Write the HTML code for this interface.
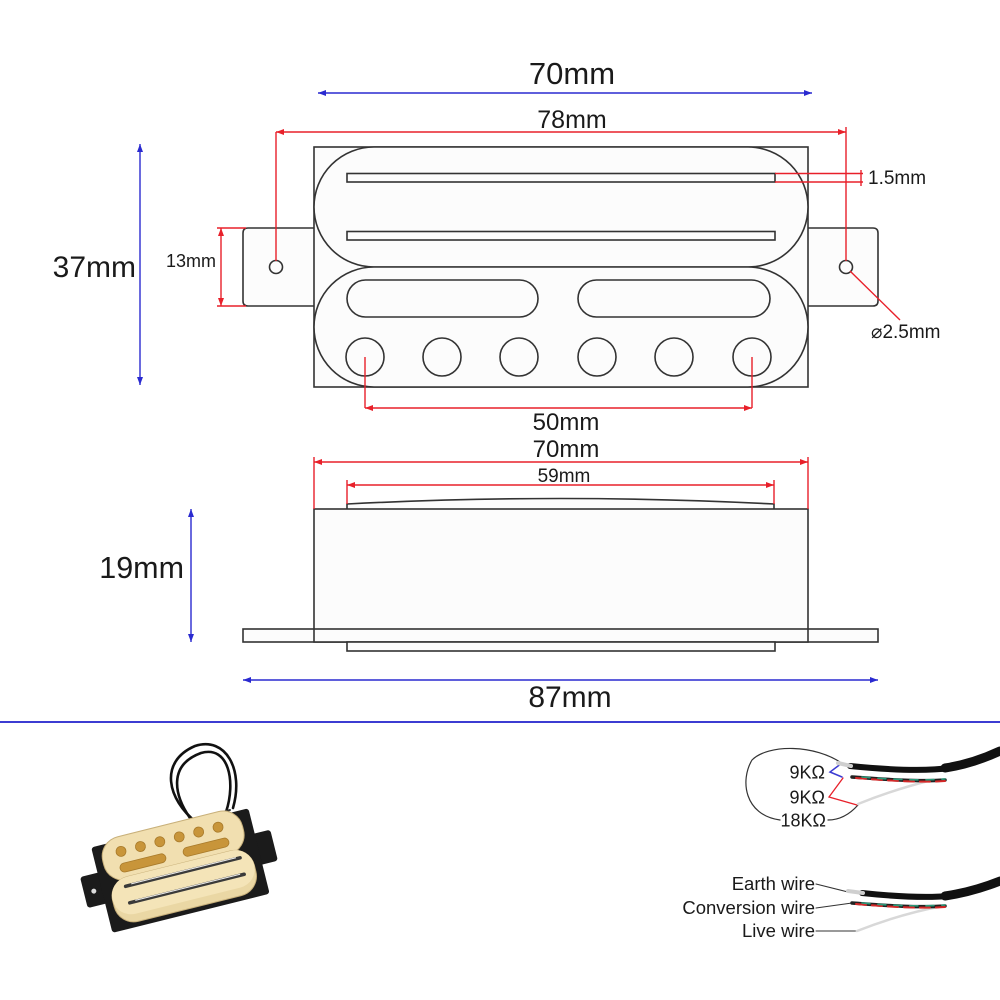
<!DOCTYPE html>
<html>
<head>
<meta charset="utf-8">
<style>
html,body{margin:0;padding:0;background:#fff;}
svg{display:block;}
text{font-family:"Liberation Sans","DejaVu Sans",sans-serif;fill:#1a1a1a;}
</style>
</head>
<body>
<svg width="1000" height="1000" viewBox="0 0 1000 1000" xmlns="http://www.w3.org/2000/svg">
<defs>
  <marker id="ar" viewBox="0 0 8 6" refX="8" refY="3" markerWidth="8" markerHeight="6" orient="auto-start-reverse" markerUnits="userSpaceOnUse">
    <path d="M0 0 L8 3 L0 6 Z" fill="#e8202a"/>
  </marker>
  <marker id="ab" viewBox="0 0 8 6" refX="8" refY="3" markerWidth="8" markerHeight="6" orient="auto-start-reverse" markerUnits="userSpaceOnUse">
    <path d="M0 0 L8 3 L0 6 Z" fill="#2a2ad0"/>
  </marker>
</defs>

<!-- ===== TOP VIEW ===== -->
<g fill="#fcfcfc" stroke="#333" stroke-width="1.6">
  <!-- tabs -->
  <path d="M314 228 L248 228 Q243 228 243 233 L243 301 Q243 306 248 306 L314 306"/>
  <path d="M808 228 L873 228 Q878 228 878 233 L878 301 Q878 306 873 306 L808 306"/>
  <rect x="314" y="147" width="494" height="240"/>
  <path d="M374 147 L748 147 A60 60 0 0 1 748 267 L374 267 A60 60 0 0 1 374 147 Z"/>
  <path d="M374 267 L748 267 A60 60 0 0 1 748 387 L374 387 A60 60 0 0 1 374 267 Z"/>
  <rect x="347" y="173.5" width="428" height="8.5"/>
  <rect x="347" y="231.5" width="428" height="8.5"/>
  <rect x="347" y="280" width="191" height="37" rx="18.5"/>
  <rect x="578" y="280" width="192" height="37" rx="18.5"/>
  <circle cx="365" cy="357" r="19"/>
  <circle cx="442" cy="357" r="19"/>
  <circle cx="519" cy="357" r="19"/>
  <circle cx="597" cy="357" r="19"/>
  <circle cx="674" cy="357" r="19"/>
  <circle cx="752" cy="357" r="19"/>
  <circle cx="276" cy="267" r="6.5"/>
  <circle cx="846" cy="267" r="6.5"/>
</g>

<!-- red dims top view -->
<g stroke="#e8202a" stroke-width="1.4" fill="none">
  <line x1="276" y1="132" x2="846" y2="132" marker-start="url(#ar)" marker-end="url(#ar)"/>
  <line x1="276" y1="132" x2="276" y2="261"/>
  <line x1="846" y1="127" x2="846" y2="261"/>
  <line x1="775" y1="173.5" x2="863" y2="173.5"/>
  <line x1="775" y1="182" x2="863" y2="182"/>
  <line x1="861" y1="170" x2="861" y2="186"/>
  <line x1="850" y1="271" x2="900" y2="320"/>
  <line x1="365" y1="357" x2="365" y2="408"/>
  <line x1="752" y1="357" x2="752" y2="408"/>
  <line x1="365" y1="408" x2="752" y2="408" marker-start="url(#ar)" marker-end="url(#ar)"/>
  <line x1="217" y1="228" x2="246" y2="228"/>
  <line x1="217" y1="306" x2="246" y2="306"/>
  <line x1="221" y1="228" x2="221" y2="306" marker-start="url(#ar)" marker-end="url(#ar)"/>
</g>

<!-- blue dims -->
<g stroke="#2a2ad0" stroke-width="1.4" fill="none">
  <line x1="318" y1="93" x2="812" y2="93" marker-start="url(#ab)" marker-end="url(#ab)"/>
  <line x1="140" y1="144" x2="140" y2="385" marker-start="url(#ab)" marker-end="url(#ab)"/>
  <line x1="191" y1="509" x2="191" y2="642" marker-start="url(#ab)" marker-end="url(#ab)"/>
  <line x1="243" y1="680" x2="878" y2="680" marker-start="url(#ab)" marker-end="url(#ab)"/>
</g>

<!-- labels top -->
<text x="572" y="84" font-size="31" text-anchor="middle">70mm</text>
<text x="572" y="128" font-size="25" text-anchor="middle">78mm</text>
<text x="136" y="277" font-size="30" text-anchor="end">37mm</text>
<text x="216" y="267" font-size="18" text-anchor="end">13mm</text>
<text x="868" y="184" font-size="19">1.5mm</text>
<text x="871" y="338" font-size="19">⌀2.5mm</text>
<text x="566" y="430" font-size="24" text-anchor="middle">50mm</text>

<!-- ===== SIDE VIEW ===== -->
<g fill="#fcfcfc" stroke="#333" stroke-width="1.6">
  <path d="M347 509 L347 504 Q561 493 774 504 L774 509"/>
  <rect x="314" y="509" width="494" height="133"/>
  <rect x="243" y="629" width="635" height="13"/>
  <line x1="314" y1="629" x2="314" y2="642"/>
  <line x1="808" y1="629" x2="808" y2="642"/>
  <rect x="347" y="642" width="428" height="9"/>
</g>
<g stroke="#e8202a" stroke-width="1.4" fill="none">
  <line x1="314" y1="462" x2="808" y2="462" marker-start="url(#ar)" marker-end="url(#ar)"/>
  <line x1="314" y1="457" x2="314" y2="509"/>
  <line x1="808" y1="457" x2="808" y2="509"/>
  <line x1="347" y1="485" x2="774" y2="485" marker-start="url(#ar)" marker-end="url(#ar)"/>
  <line x1="347" y1="480" x2="347" y2="504"/>
  <line x1="774" y1="480" x2="774" y2="504"/>
</g>
<text x="566" y="457" font-size="24" text-anchor="middle">70mm</text>
<text x="564" y="482" font-size="19" text-anchor="middle">59mm</text>
<text x="184" y="578" font-size="30.5" text-anchor="end">19mm</text>
<text x="570" y="707" font-size="30" text-anchor="middle">87mm</text>

<!-- separator -->
<line x1="0" y1="722" x2="1000" y2="722" stroke="#3c3cd2" stroke-width="2"/>

<!-- ===== PHOTO ===== -->
<g fill="none" stroke="#111" stroke-width="2.6" stroke-linecap="round">
  <path d="M196 822 C168 800,158 762,195 746 C226 736,244 770,233 808"/>
  <path d="M190 818 C174 795,168 765,201 753 C229 745,236 782,226 812"/>
  <path d="M204 820 C214 815,222 812,230 810" stroke="#333" stroke-width="2"/>
</g>
<g transform="translate(178,865) rotate(-14)">
  <rect x="-98" y="-12" width="196" height="32" rx="3" fill="#1b1b1b"/>
  <rect x="-80" y="-38" width="162" height="88" rx="3" fill="#1b1b1b"/>
  <circle cx="-88" cy="5" r="2.5" fill="#ddd"/>
  <rect x="-72" y="-42" width="144" height="44" rx="20" fill="#f1dfb0" stroke="#c8b07a" stroke-width="1"/>
  <g fill="#c8953a" stroke="#a87a2a" stroke-width="0.8">
    <circle cx="-52" cy="-27" r="5"/>
    <circle cx="-32" cy="-27" r="5"/>
    <circle cx="-12" cy="-27" r="5"/>
    <circle cx="8" cy="-27" r="5"/>
    <circle cx="28" cy="-27" r="5"/>
    <circle cx="48" cy="-27" r="5"/>
    <rect x="-57" y="-15" width="47" height="9" rx="4.5"/>
    <rect x="8" y="-15" width="47" height="9" rx="4.5"/>
  </g>
  <rect x="-72" y="-1" width="146" height="46" rx="20" fill="#ead7a4" stroke="#c8b07a" stroke-width="1"/>
  <rect x="-72" y="-1" width="146" height="38" rx="19" fill="#f4e4b8"/>
  <line x1="-56" y1="8" x2="62" y2="8" stroke="#3a3a3a" stroke-width="3.5" stroke-linecap="round"/>
  <line x1="-50" y1="7" x2="58" y2="7" stroke="#eee" stroke-width="1"/>
  <line x1="-56" y1="25" x2="62" y2="25" stroke="#3a3a3a" stroke-width="3.5" stroke-linecap="round"/>
  <line x1="-50" y1="24" x2="58" y2="24" stroke="#eee" stroke-width="1"/>
</g>

<!-- ===== WIRING 1 ===== -->
<g fill="none" stroke-linecap="round">
  <path d="M843 764 C815 744,768 744,752 760 C740 780,744 815,780 820" stroke="#333" stroke-width="1.2"/>
  <path d="M828 820 C840 820,850 814,858 805" stroke="#333" stroke-width="1.2"/>
  <path d="M842 763 L830 772 L842 777" stroke="#3c3cd2" stroke-width="1.5"/>
  <path d="M843 778 L829 797 L857 805" stroke="#e8202a" stroke-width="1.3"/>
  <path d="M858 804 C880 795,905 787,928 781" stroke="#d8d8d8" stroke-width="2.5"/>
  <path d="M852 777 C880 779,918 782,945 780" stroke="#222" stroke-width="3.5"/>
  <path d="M856 778 C880 780,918 783,945 781" stroke="#d52828" stroke-width="2" stroke-dasharray="10 6"/>
  <path d="M862 777 C884 779,918 781,945 779" stroke="#2a9a7a" stroke-width="1.6" stroke-dasharray="8 8"/>
  <path d="M850 766 C880 769,920 772,950 768 C970 764,985 758,1000 752" stroke="#111" stroke-width="6"/>
  <path d="M945 768 C965 765,985 758,1000 751" stroke="#111" stroke-width="9"/>
  <line x1="838" y1="763" x2="851" y2="766" stroke="#cfcfcf" stroke-width="4"/>
</g>
<text x="825" y="778.5" font-size="18" text-anchor="end">9KΩ</text>
<text x="825" y="803.5" font-size="18" text-anchor="end">9KΩ</text>
<text x="826" y="826.5" font-size="18" text-anchor="end">18KΩ</text>

<!-- ===== WIRING 2 ===== -->
<g fill="none" stroke-linecap="round">
  <line x1="816" y1="884" x2="848" y2="892" stroke="#333" stroke-width="1.1"/>
  <line x1="816" y1="908" x2="852" y2="903" stroke="#333" stroke-width="1.1"/>
  <line x1="816" y1="931" x2="857" y2="931" stroke="#333" stroke-width="1.1"/>
  <path d="M857 931 C880 922,910 912,943 906" stroke="#d8d8d8" stroke-width="2.5"/>
  <path d="M852 903 C880 905,915 908,945 906" stroke="#222" stroke-width="3.5"/>
  <path d="M856 904 C880 906,915 909,945 907" stroke="#d52828" stroke-width="2" stroke-dasharray="10 6"/>
  <path d="M862 903 C884 905,915 907,945 905" stroke="#2a9a7a" stroke-width="1.6" stroke-dasharray="8 8"/>
  <path d="M862 893 C890 896,925 898,950 896 C970 893,985 888,1000 882" stroke="#111" stroke-width="6"/>
  <path d="M945 896 C965 893,985 887,1000 881" stroke="#111" stroke-width="9"/>
  <line x1="848" y1="891" x2="863" y2="893" stroke="#cfcfcf" stroke-width="4"/>
</g>
<text x="815" y="890" font-size="18.5" text-anchor="end">Earth wire</text>
<text x="815" y="914" font-size="18.5" text-anchor="end">Conversion wire</text>
<text x="815" y="937" font-size="18.5" text-anchor="end">Live wire</text>
</svg>
</body>
</html>
